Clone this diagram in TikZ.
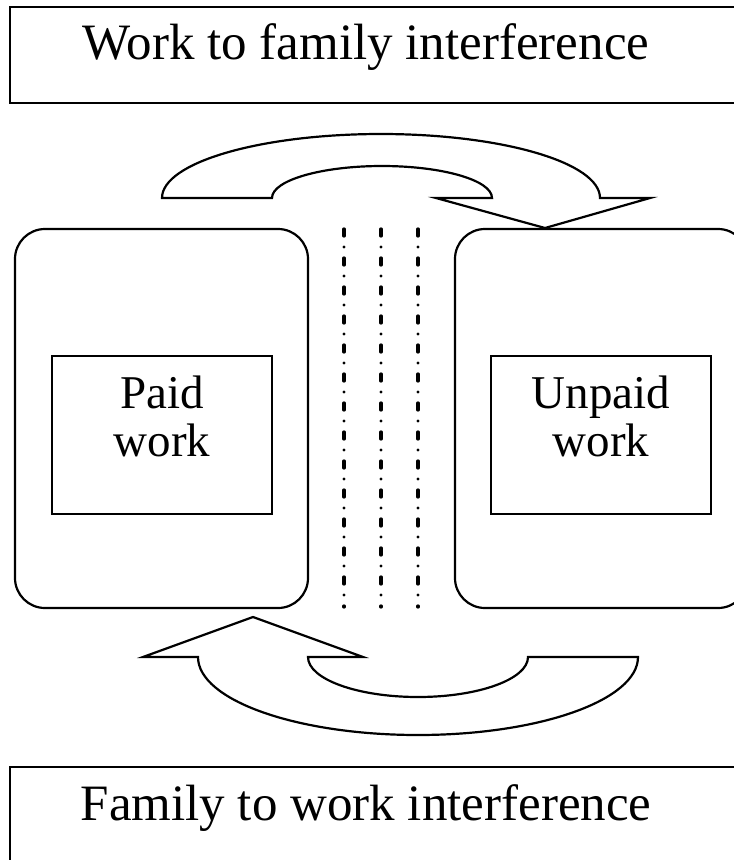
\documentclass[tikz,border=0pt]{standalone}
\usepackage{fontspec}
\setmainfont{Liberation Serif}
\usepackage{tikz}
\usetikzlibrary{positioning}

\begin{document}
\begin{tikzpicture}[
        x=1pt, y=-1pt, line width=2.2pt,
        every node/.style={align=center, inner sep=0pt},
        bigbox/.style  ={rectangle, draw, minimum width=760pt, minimum height=96pt},
        area/.style    ={rectangle, rounded corners=30pt, draw,
                         minimum width=293pt, minimum height=379pt},
        workbox/.style ={rectangle, draw, minimum width=220pt, minimum height=158pt},
        lbl/.style     ={font=\fontsize{47}{48}\selectfont},
        ttl/.style     ={font=\fontsize{51}{56}\selectfont},
        sepline/.style ={line width=3.3pt, line cap=round,
                         dash pattern=on 7pt off 11pt on 0pt off 11pt},
        bandarrow/.style={line join=miter, fill=white},
    ]
        \useasboundingbox (0,0) rectangle (734,860);
        \clip (0,0) rectangle (734,860);

        % ===================== Cajas de titulo =====================
        \node[bigbox] (wfibox) at (390, 55) {};
        \node[ttl]    (wfi)    at (366, 47) {Work to family interference};
        \node[bigbox, minimum height=104pt] (fwibox) at (390, 819) {};
        \node[ttl]    (fwi)    at (366, 808) {Family to work interference};

        % ===================== Areas de trabajo =====================
        \node[area]    (paidarea)   at (161.5, 418.5) {};
        \node[workbox] (paid)       at (162, 435) {};
        \node[lbl]     (paidtxt)    at (162, 416) {Paid\\work};

        \node[area]    (unpaidarea) at (601.5, 418.5) {};
        \node[workbox] (unpaid)     at (601, 435) {};
        \node[lbl]     (unpaidtxt)  at (601, 416) {Unpaid\\work};

        % ===================== Separadores =====================
        \foreach \sx in {344, 381, 418}
            \draw[sepline] (\sx, 229) -- (\sx, 607);

        % ===================== Flechas curvas =====================
        % Trabajo -> familia (arriba).
        \draw[bandarrow] (162,198)
            arc[start angle=180, end angle=0, x radius=219pt, y radius=64pt]
            -- (650,198) -- (545,228) -- (436,198) -- (492,198)
            arc[start angle=0, end angle=180, x radius=110pt, y radius=32pt]
            -- cycle;

        % Familia -> trabajo (abajo).
        \draw[bandarrow] (253,617) -- (363,657) -- (308,657)
            arc[start angle=180, end angle=360, x radius=110pt, y radius=40pt]
            -- (638,657)
            arc[start angle=0, end angle=-180, x radius=220pt, y radius=78pt]
            -- (143,657) -- cycle;
    \end{tikzpicture}
\end{document}
